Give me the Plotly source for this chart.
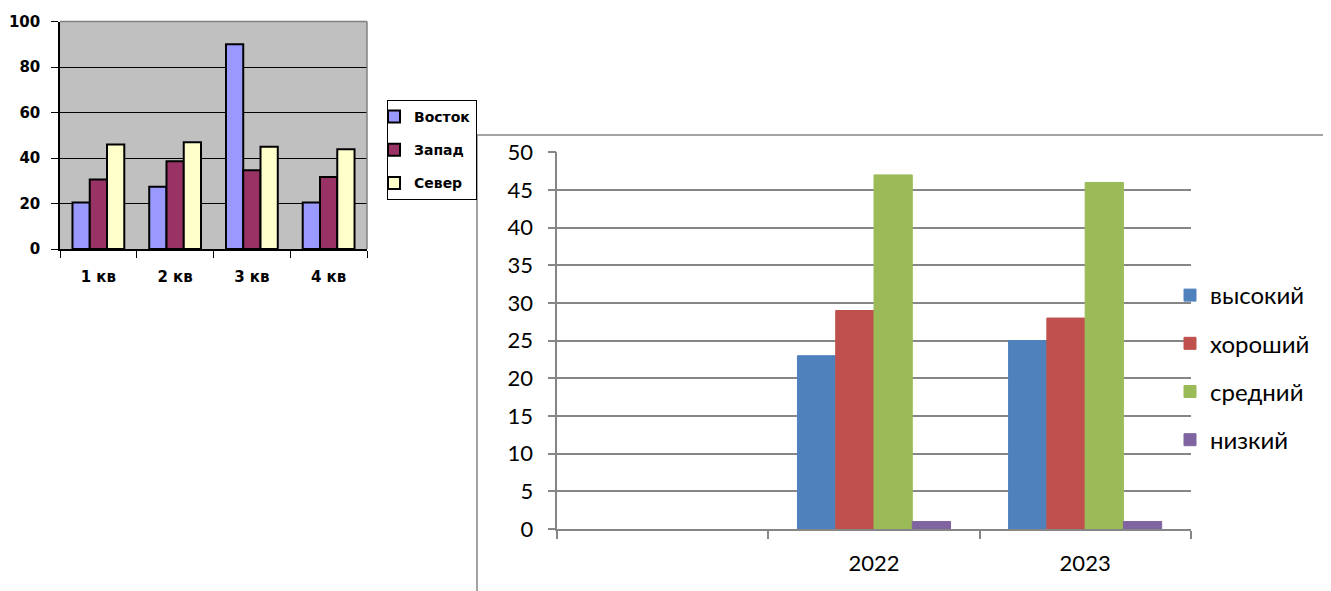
import plotly.graph_objects as go

# ---------------- data ----------------
quarters = ["1 кв", "2 кв", "3 кв", "4 кв"]
east = [20.4, 27.4, 90, 20.4]
west = [30.6, 38.6, 34.6, 31.6]
north = [45.9, 46.9, 45, 43.9]
left_series = ["Восток", "Запад", "Север"]
left_ticks = [0, 20, 40, 60, 80, 100]

years = [" ", "2022", "2023"]
high = [None, 23, 25]
good = [None, 29, 28]
mid = [None, 47, 46]
low = [None, 1, 1]
right_series = ["высокий", "хороший", "средний", "низкий"]
right_ticks = [0, 5, 10, 15, 20, 25, 30, 35, 40, 45, 50]

# ---------------- layout helpers ----------------
W, H = 1331, 591
OX, OY = 8, 8  # page body margin
def px(x):
    return (x - OX) / W
def py(y):
    return 1 - (y - OY) / H

fig = go.Figure()

# left chart
left_colors = ["#9999FF", "#993366", "#FFFFCC"]
gapL = 0.325
wL = (1 - gapL) / 3
for i, (name, vals, col) in enumerate(zip(left_series, [east, west, north], left_colors)):
    fig.add_trace(go.Bar(
        x=quarters, y=vals, name=name, xaxis="x", yaxis="y",
        marker=dict(color=col, line=dict(color="black", width=2)),
        width=wL, offset=-1.5 * wL + i * wL,
        legend="legend", legendgroup="L" + str(i),
    ))

# right chart
right_colors = ["#4F81BD", "#C0504D", "#9BBB59", "#8064A2"]
gapR = 0.275
wR = (1 - gapR) / 4
for i, (name, vals, col) in enumerate(zip(right_series, [high, good, mid, low], right_colors)):
    fig.add_trace(go.Bar(
        x=years, y=vals, name=name, xaxis="x2", yaxis="y2",
        marker=dict(color=col, line=dict(color=col, width=1)),
        width=wR, offset=-2 * wR + i * wR,
        legend="legend2", legendgroup="R" + str(i),
    ))

left_font = dict(family="DejaVu Sans, Verdana, sans-serif", size=15, color="black", weight="bold")
legend_font = dict(family="DejaVu Sans, Verdana, sans-serif", size=14, color="black", weight="bold")
right_font = dict(family="Lato, Carlito, sans-serif", size=22, color="black")
right_legend_font = dict(family="Lato, Carlito, sans-serif", size=24, color="black")
gray = "#868686"

fig.update_layout(
    width=W, height=H,
    autosize=False,
    margin=dict(l=0, r=0, t=0, b=0, pad=0, autoexpand=False),
    paper_bgcolor="white",
    plot_bgcolor="white",
    showlegend=True,
    barmode="overlay",
    xaxis=dict(
        domain=[px(60), px(367)], anchor="y", type="category", automargin=False,
        showline=True, linecolor="black", linewidth=1.5,
        ticks="outside", ticklen=7, tickcolor="black", tickwidth=1.2,
        tickson="boundaries", showgrid=False, tickfont=left_font,
        ticklabelstandoff=13, fixedrange=True,
    ),
    yaxis=dict(
        domain=[py(249), py(21.5)], anchor="x", range=[0, 100], automargin=False,
        tickvals=left_ticks, showline=True, linecolor="black", linewidth=1.5,
        ticks="outside", ticklen=7, tickcolor="black", tickwidth=1.2,
        showgrid=True, gridcolor="black", gridwidth=1, zeroline=False,
        tickfont=left_font, ticklabelstandoff=8, fixedrange=True,
    ),
    xaxis2=dict(
        domain=[px(557.3), px(1190.7)], anchor="y2", type="category", automargin=False,
        showline=True, linecolor=gray, linewidth=1.5,
        ticks="outside", ticklen=8, tickcolor=gray, tickwidth=1.5,
        tickson="boundaries", showgrid=False, tickfont=right_font,
        ticklabelstandoff=14, fixedrange=True,
    ),
    yaxis2=dict(
        domain=[py(529), py(152.3)], anchor="x2", range=[0, 50], automargin=False,
        tickvals=right_ticks, showline=True, linecolor=gray, linewidth=1.5,
        ticks="outside", ticklen=8, tickcolor=gray, tickwidth=1.5,
        showgrid=True, gridcolor=gray, gridwidth=1.5, zeroline=False,
        tickfont=right_font, ticklabelstandoff=10, fixedrange=True,
    ),
    legend=dict(
        x=px(387), y=py(100), xanchor="left", yanchor="top",
        bgcolor="white", bordercolor="black", borderwidth=1,
        font=legend_font, traceorder="grouped", tracegroupgap=12,
        indentation=-14, itemclick=False, itemdoubleclick=False,
    ),
    legend2=dict(
        x=px(1170), y=py(273), xanchor="left", yanchor="top",
        bgcolor="rgba(0,0,0,0)", borderwidth=0,
        font=right_legend_font, traceorder="grouped", tracegroupgap=14,
        itemclick=False, itemdoubleclick=False,
    ),
    shapes=[
        # left plot area background
        dict(type="rect", xref="x domain", yref="y domain", x0=0, x1=1, y0=0, y1=1,
             fillcolor="#C0C0C0", line=dict(width=0), layer="below"),
        # left plot border (top & right, gray)
        dict(type="line", xref="x domain", yref="y domain", x0=0, x1=1, y0=1, y1=1,
             line=dict(color="#808080", width=1.5), layer="above"),
        dict(type="line", xref="x domain", yref="y domain", x0=1, x1=1, y0=0, y1=1,
             line=dict(color="#808080", width=1.5), layer="above"),
        # right chart frame
        dict(type="line", xref="paper", yref="paper", x0=px(477), x1=1, y0=py(135), y1=py(135),
             line=dict(color=gray, width=1.5)),
        dict(type="line", xref="paper", yref="paper", x0=px(477), x1=px(477), y0=py(135), y1=0,
             line=dict(color=gray, width=1.5)),
    ],
)

fig.write_html("out.html", config={"displayModeBar": False})
